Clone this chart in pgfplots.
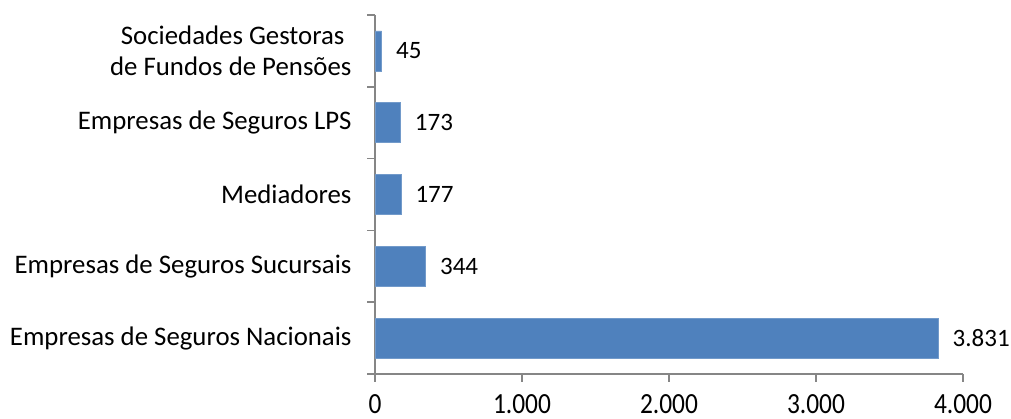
\documentclass[border=0pt]{standalone}
\usepackage{pgfplots}
\pgfplotsset{compat=1.18}
\usepackage{fontspec}
\setmainfont{Carlito}
\definecolor{barblue}{HTML}{4F81BD}
\definecolor{axgray}{HTML}{868686}
\begin{document}
\begin{tikzpicture}
\useasboundingbox (0,0) rectangle (1011pt,419pt);
\begin{axis}[
  at={(375pt,45pt)}, anchor=south west,
  scale only axis, width=588pt, height=359pt,
  xbar, bar width=40pt,
  xmin=0, xmax=4000, ymin=-0.5, ymax=4.5,
  xtick={0,1000,2000,3000,4000},
  ytick={0,1,2,3,4},
  yticklabels={Empresas de Seguros Nacionais, Empresas de Seguros Sucursais, Mediadores, Empresas de Seguros LPS, {Sociedades Gestoras\hspace*{7pt}\\de Fundos de Pensões}},
  yticklabel style={align=right, font=\fontsize{26.8}{31}\selectfont, xshift=-12pt},
  minor ytick={-0.5,0.5,1.5,2.5,3.5,4.5},
  axis x line*=bottom, axis y line*=left,
  axis line style={axgray, line width=1.5pt, -},
  tick style={axgray, line width=1.5pt},
  major tick length=8pt, minor tick length=8pt,
  tick align=outside,
  major y tick style={draw=none},
  minor y tick style={axgray, line width=1.5pt},
  xticklabel style={font=\fontsize{25.4}{30}\selectfont, yshift=-9pt},
  xticklabel={\scalebox{1}[1.15]{\pgfmathprintnumber{\tick}}},
  nodes near coords,
  nodes near coords style={font=\fontsize{25}{30}\selectfont, anchor=west, xshift=11pt, black},
  /pgf/number format/1000 sep={.},
  /pgf/number format/assume math mode=true,
]
\addplot[fill=barblue, draw=barblue!80!white] coordinates {(3831,0) (344,1) (177,2) (173,3) (45,4)};
\end{axis}
\end{tikzpicture}
\end{document}
